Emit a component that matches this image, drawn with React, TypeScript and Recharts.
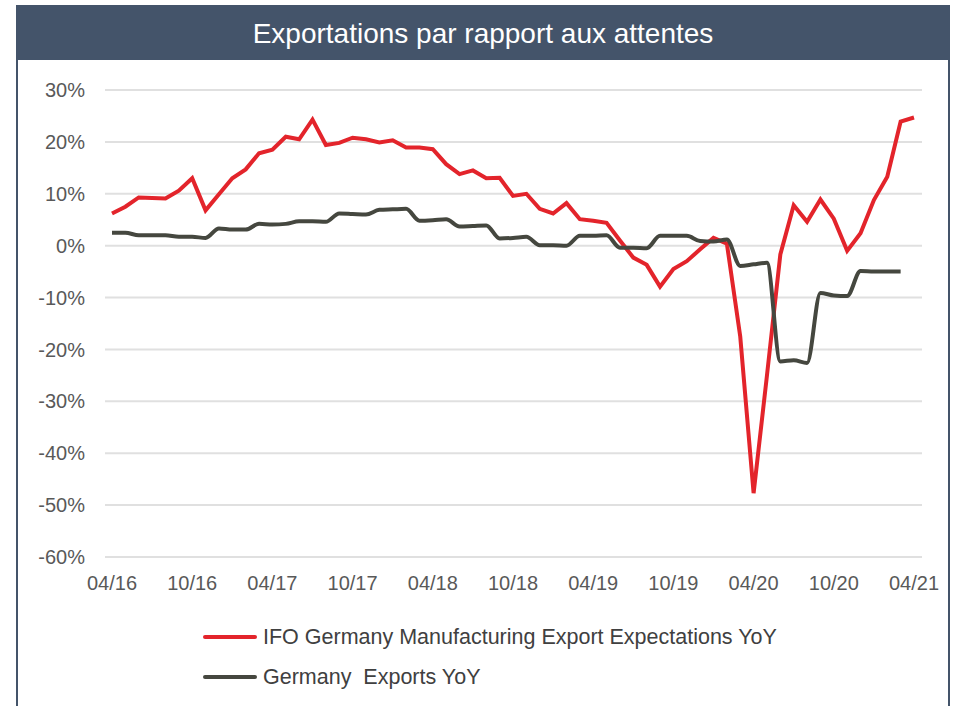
import { CartesianGrid, Legend, Line, LineChart, XAxis, YAxis } from "recharts";

const months = [
  "04/16", "05/16", "06/16", "07/16", "08/16", "09/16", "10/16", "11/16", "12/16", "01/17", "02/17", "03/17",
  "04/17", "05/17", "06/17", "07/17", "08/17", "09/17", "10/17", "11/17", "12/17", "01/18", "02/18", "03/18",
  "04/18", "05/18", "06/18", "07/18", "08/18", "09/18", "10/18", "11/18", "12/18", "01/19", "02/19", "03/19",
  "04/19", "05/19", "06/19", "07/19", "08/19", "09/19", "10/19", "11/19", "12/19", "01/20", "02/20", "03/20",
  "04/20", "05/20", "06/20", "07/20", "08/20", "09/20", "10/20", "11/20", "12/20", "01/21", "02/21", "03/21",
  "04/21",
];

const ifoExpectations = [
  6.2, 7.5, 9.3, 9.2, 9.1, 10.6, 13.0, 6.8, 9.9, 13.0,
  14.7, 17.8, 18.5, 21.0, 20.5, 24.3, 19.4, 19.8, 20.8, 20.5,
  19.9, 20.3, 18.9, 18.9, 18.6, 15.7, 13.8, 14.5, 13.0, 13.1,
  9.6, 10.0, 7.1, 6.2, 8.2, 5.1, 4.8, 4.4, 1.0, -2.3,
  -3.7, -7.9, -4.5, -3.0, -0.7, 1.5, 0.4, -17.5, -47.7, -25.0,
  -1.7, 7.8, 4.6, 8.9, 5.2, -1.0, 2.4, 8.8, 13.3, 23.9, 24.7,
];

const germanyExports = [
  2.5, 2.5, 2.0, 2.0, 2.0, 1.7, 1.7, 1.5, 3.3, 3.1,
  3.1, 4.2, 4.1, 4.2, 4.7, 4.7, 4.6, 6.2, 6.1, 6.0,
  6.9, 7.0, 7.1, 4.8, 4.9, 5.1, 3.7, 3.8, 3.9, 1.4,
  1.5, 1.7, 0.1, 0.1, 0.0, 1.9, 1.9, 2.0, -0.4, -0.4,
  -0.5, 1.9, 1.9, 1.9, 0.9, 0.8, 1.2, -3.9, -3.6, -3.3,
  -22.3, -22.1, -22.6, -9.1, -9.6, -9.7, -4.9, -5.0, -5.0, -5.0, null,
];

const yTicks = [-60, -50, -40, -30, -20, -10, 0, 10, 20, 30];

const seriesNames = {
  ifo: "IFO Germany Manufacturing Export Expectations YoY",
  exports: "Germany  Exports YoY",
};

const data = months.map((m, i) => ({
  month: m,
  ifo: ifoExpectations[i],
  exports: germanyExports[i],
}));

const FONT = '"Liberation Sans", Arial, sans-serif';
const RED = "#e3242b";
const DARK = "#45473f";
const SLATE = "#44546a";

const LegendRows = () => (
  <div style={{ fontFamily: FONT, fontSize: 21.5, color: "#404040" }}>
    {[
      { color: RED, name: seriesNames.ifo },
      { color: DARK, name: seriesNames.exports },
    ].map((item) => (
      <div key={item.name} style={{ display: "flex", alignItems: "center", height: 40 }}>
        <div style={{ width: 54, height: 4, background: item.color, borderRadius: 2, marginRight: 6 }} />
        <span style={{ whiteSpace: "pre" }}>{item.name}</span>
      </div>
    ))}
  </div>
);

export default function App() {
  return (
    <div
      style={{
        position: "absolute",
        left: 0,
        top: 0,
        width: 957,
        height: 706,
        background: "#fff",
        overflow: "hidden",
        fontFamily: FONT,
      }}
    >
      <div
        style={{
          position: "absolute",
          left: 16,
          top: 5,
          width: 930,
          height: 720,
          borderLeft: `2px solid ${SLATE}`,
          borderRight: `2px solid ${SLATE}`,
        }}
      />
      <div
        style={{
          position: "absolute",
          left: 16,
          top: 5,
          width: 934,
          height: 55,
          background: SLATE,
          color: "#fff",
          fontSize: 28,
          lineHeight: "58px",
          textAlign: "center",
        }}
      >
        Exportations par rapport aux attentes
      </div>
      <div style={{ position: "absolute", left: 0, top: 0 }}>
        <LineChart
          width={957}
          height={706}
          data={data}
          margin={{ top: 90, right: 35, bottom: 119, left: 5 }}
        >
          <CartesianGrid vertical={false} stroke="#e0e0e0" strokeWidth={2} />
          <XAxis
            dataKey="month"
            height={30}
            axisLine={false}
            tickLine={false}
            interval={5}
            tickMargin={13}
            padding={{ left: 7, right: 8 }}
            tick={{ fill: "#595959", fontSize: 20, fontFamily: FONT }}
          />
          <YAxis
            width={100}
            domain={[-60, 30]}
            ticks={yTicks}
            axisLine={false}
            tickLine={false}
            tickMargin={14}
            tickFormatter={(v: number) => `${v}%`}
            tick={{ fill: "#595959", fontSize: 20, fontFamily: FONT }}
          />
          <Legend
            layout="vertical"
            align="center"
            verticalAlign="middle"
            content={() => <LegendRows />}
            wrapperStyle={{ top: 617, left: 203, width: 720, height: 80 }}
          />
          <Line
            type="linear"
            dataKey="ifo"
            name={seriesNames.ifo}
            stroke={RED}
            strokeWidth={4}
            dot={false}
            isAnimationActive={false}
          />
          <Line
            type="monotone"
            dataKey="exports"
            name={seriesNames.exports}
            stroke={DARK}
            strokeWidth={4}
            dot={false}
            isAnimationActive={false}
          />
        </LineChart>
      </div>
    </div>
  );
}
